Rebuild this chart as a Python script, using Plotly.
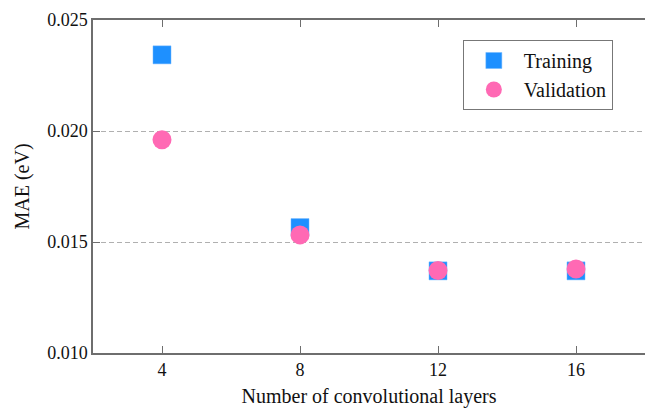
import plotly.graph_objects as go

layers = [4, 8, 12, 16]
training_mae = [0.02343, 0.01565, 0.01370, 0.01370]
validation_mae = [0.01961, 0.01532, 0.01372, 0.01378]
x_ticks = [4, 8, 12, 16]
y_ticks = [0.010, 0.015, 0.020, 0.025]
y_tick_text = ["0.010", "0.015", "0.020", "0.025"]

FONT = "Liberation Serif, Times New Roman, serif"
AXC = "#6e6e6e"

fig = go.Figure()
fig.add_trace(go.Scatter(
    x=layers, y=training_mae, mode="markers", name="Training",
    legendgroup="t",
    marker=dict(symbol="square", size=18, color="#1E90FF",
                line=dict(width=0.5, color="#6fb6ff")),
))
fig.add_trace(go.Scatter(
    x=layers, y=validation_mae, mode="markers", name="Validation",
    legendgroup="v",
    marker=dict(symbol="circle", size=19, color="#FF69B4",
                line=dict(width=0)),
))
# top axis (ticks only, no labels)
fig.add_trace(go.Scatter(x=[None], y=[None], xaxis="x2", showlegend=False,
                         hoverinfo="skip"))

fig.update_layout(
    width=645, height=408, autosize=False,
    margin=dict(l=93, r=0, t=20, b=55),
    paper_bgcolor="white", plot_bgcolor="white",
    font=dict(family=FONT, size=18, color="#111"),
    showlegend=True,
    legend=dict(
        x=0.670, y=0.94, xanchor="left", yanchor="top",
        bordercolor="#777", borderwidth=1, bgcolor="white",
        font=dict(family=FONT, size=20, color="#111"),
        itemsizing="trace", itemwidth=50,
        traceorder="grouped", tracegroupgap=0,
    ),
    xaxis=dict(
        range=[2, 18], tickvals=x_ticks, ticktext=[str(v) for v in x_ticks],
        ticks="inside", ticklen=7, tickcolor=AXC, tickwidth=1,
        showline=True, linecolor=AXC, linewidth=1.5,
        showgrid=False, zeroline=False,
        title=dict(text="Number of convolutional layers",
                   font=dict(family=FONT, size=20), standoff=10),
        tickfont=dict(family=FONT, size=18),
    ),
    xaxis2=dict(
        range=[2, 18], overlaying="x", side="top", tickvals=x_ticks,
        showticklabels=False, ticks="inside", ticklen=7, tickcolor=AXC,
        showline=True, linecolor=AXC, linewidth=1.5,
        showgrid=False, zeroline=False,
    ),
    yaxis=dict(
        range=[0.010, 0.025], tickvals=y_ticks, ticktext=y_tick_text,
        ticks="inside", ticklen=7, tickcolor=AXC,
        showline=True, linecolor=AXC, linewidth=1.5,
        showgrid=True, gridcolor="#b0b0b0", griddash="5px,3px", gridwidth=1,
        zeroline=False,
        title=dict(text="MAE (eV)", font=dict(family=FONT, size=20), standoff=12),
        tickfont=dict(family=FONT, size=18),
    ),
)

post = (
    "document.body.style.margin='0';"
    "document.body.style.overflow='hidden';"
    "Plotly.relayout(document.getElementById('{plot_id}'), {width:645, height:408});"
)
fig.write_html("out.html", config={"responsive": False, "displayModeBar": False},
               post_script=post)
